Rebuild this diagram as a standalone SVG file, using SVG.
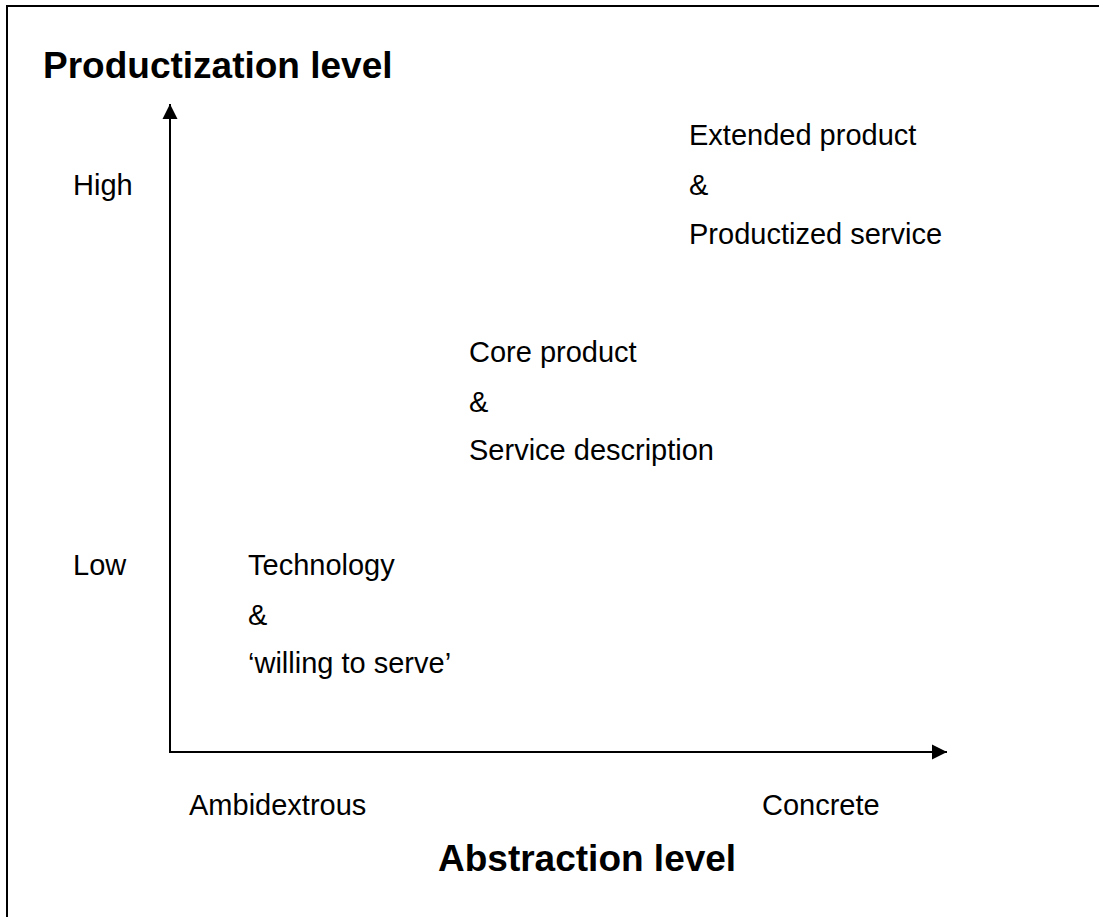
<svg xmlns="http://www.w3.org/2000/svg" width="1099" height="917" viewBox="0 0 1099 917">
  <style>
    .t { font-family: "Liberation Sans", Arial, sans-serif; font-size: 29px; fill: #000; }
    .h { font-family: "Liberation Sans", Arial, sans-serif; font-size: 37px; font-weight: bold; fill: #000; }
    .ax { stroke: #000; stroke-width: 2; fill: none; }
  </style>
  <defs>
    <marker id="arr" markerUnits="userSpaceOnUse" markerWidth="16" markerHeight="16" viewBox="0 0 16 16" refX="15" refY="8" orient="auto">
      <path d="M0,0.5 L15,8 L0,15.5 Z" fill="#000"/>
    </marker>
  </defs>
  <rect x="0" y="0" width="1099" height="917" fill="#fff"/>
  <rect x="7" y="6" width="1100" height="920" fill="none" stroke="#000" stroke-width="2"/>

  <g id="connectors">
    <line class="ax" x1="170" y1="752" x2="170" y2="104" marker-end="url(#arr)"/>
    <line class="ax" x1="169" y1="752" x2="947" y2="752" marker-end="url(#arr)"/>
  </g>

  <g id="y-title"><text class="h" x="43" y="78">Productization level</text></g>
  <g id="x-title"><text class="h" x="438" y="871">Abstraction level</text></g>
  <g id="y-high"><text class="t" x="73" y="195">High</text></g>
  <g id="y-low"><text class="t" x="73" y="575">Low</text></g>
  <g id="x-ambi"><text class="t" x="189" y="815">Ambidextrous</text></g>
  <g id="x-concrete"><text class="t" x="762" y="815">Concrete</text></g>

  <g id="node-extended">
    <text class="t" x="689" y="145">Extended product</text>
    <text class="t" x="689" y="195">&amp;</text>
    <text class="t" x="689" y="244">Productized service</text>
  </g>
  <g id="node-core">
    <text class="t" x="469" y="362">Core product</text>
    <text class="t" x="469" y="412">&amp;</text>
    <text class="t" x="469" y="460">Service description</text>
  </g>
  <g id="node-tech">
    <text class="t" x="248" y="575">Technology</text>
    <text class="t" x="248" y="625">&amp;</text>
    <text class="t" x="248" y="673">‘willing to serve’</text>
  </g>
</svg>
